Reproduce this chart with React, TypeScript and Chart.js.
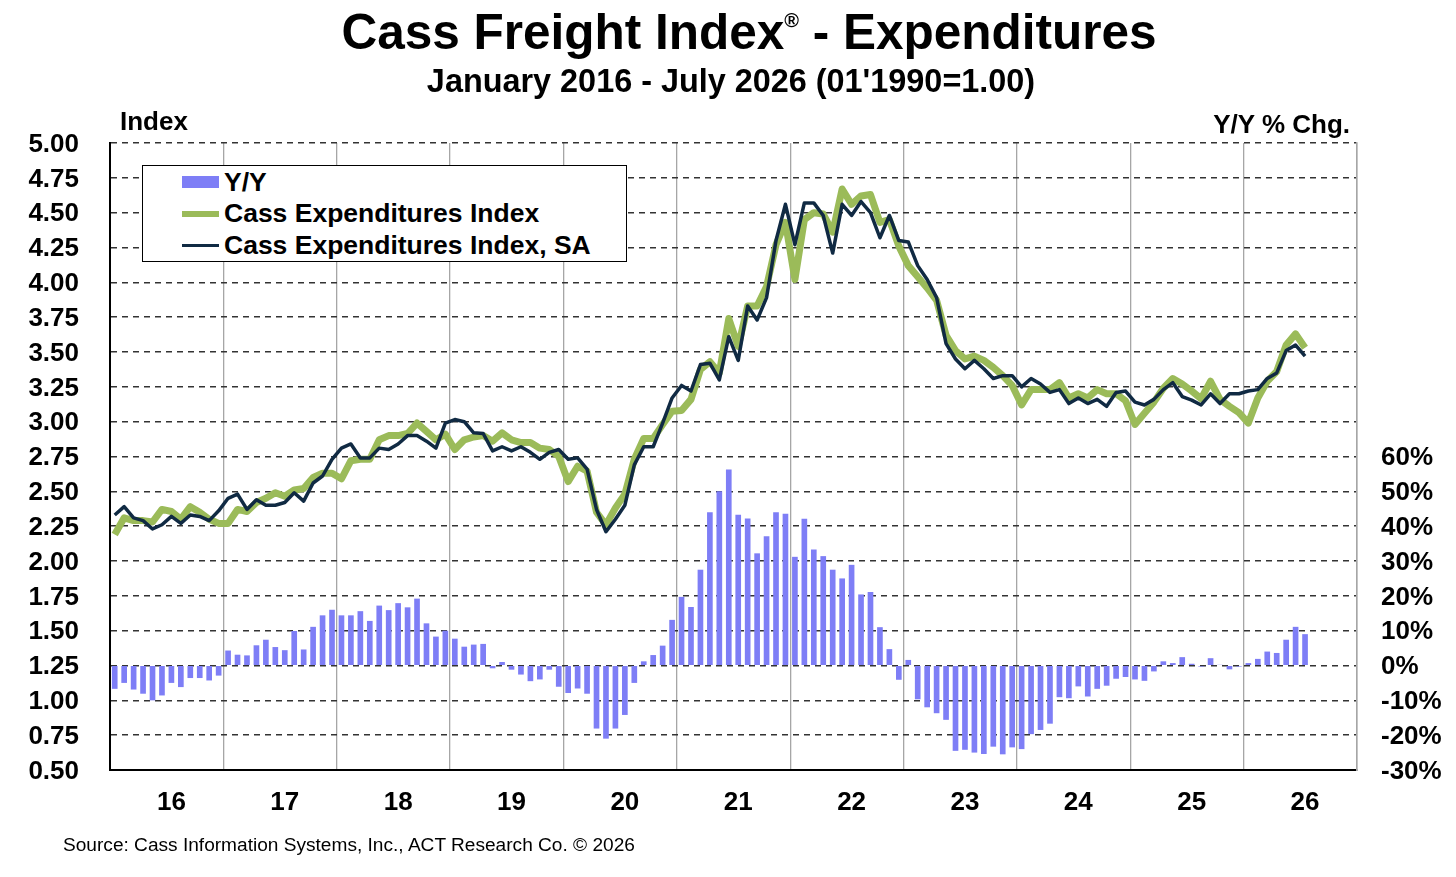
import { useEffect, useRef } from "react";
import { Chart, registerables } from "chart.js";

Chart.register(...registerables);

const FONT = "'Liberation Sans', Arial, Helvetica, sans-serif";
Chart.defaults.font.family = FONT;

const BAR_COLOR = "#7E7EF6";
const GREEN = "#9BBB59";
const NAVY = "#102A43";

// x axis: months Jan 2016 .. Dec 2026, labels centred on each year
const yearLabels = ["16", "17", "18", "19", "20", "21", "22", "23", "24", "25", "26"];

// Y/Y % change, Jan 2016 - Jul 2026
const yoyPct = [
  -6.7, -5.0, -6.9, -8.1, -10.0, -8.6, -5.0, -6.2, -3.6, -3.6, -4.3, -2.9,
  4.3, 3.1, 2.9, 5.8, 7.4, 5.3, 4.4, 9.9, 4.6, 11.1, 14.4, 16.0,
  14.4, 14.4, 15.6, 12.8, 17.2, 15.9, 17.9, 16.7, 19.2, 12.1, 8.3, 10.0,
  7.7, 5.4, 6.0, 6.2, -0.8, 1.0, -1.2, -2.6, -4.5, -4.0, -1.2, -6.1,
  -7.9, -6.6, -8.1, -18.1, -21.0, -18.1, -14.2, -5.0, 1.2, 3.0, 5.7, 13.1,
  19.7, 16.8, 27.5, 44.0, 50.0, 56.3, 43.3, 42.2, 32.2, 37.1, 44.0, 43.6,
  31.2, 42.1, 33.3, 31.4, 27.5, 25.0, 28.9, 20.4, 21.1, 11.0, 4.7, -4.1,
  1.6, -9.7, -12.0, -13.7, -15.6, -24.5, -24.2, -25.0, -25.4, -23.3, -25.5, -23.5,
  -24.0, -19.7, -18.5, -16.7, -9.1, -9.4, -6.0, -8.9, -6.7, -5.8, -3.8, -3.3,
  -4.0, -4.4, -1.7, 1.2, 0.7, 2.4, 0.5, -0.3, 2.1, 0.2, -1.1, -0.3,
  0.7, 1.9, 4.0, 3.6, 7.4, 11.1, 9.0,
];

// Cass Expenditures Index (not seasonally adjusted)
const cassIndex = [
  2.19, 2.31, 2.29, 2.29, 2.28, 2.37, 2.355, 2.3, 2.39, 2.35, 2.3, 2.27,
  2.27, 2.37, 2.355, 2.42, 2.45, 2.49, 2.465, 2.51, 2.52, 2.6, 2.63, 2.63,
  2.59, 2.72, 2.73, 2.73, 2.87, 2.9, 2.9, 2.915, 2.99, 2.93, 2.87, 2.91,
  2.8, 2.87, 2.89, 2.9, 2.86, 2.92, 2.87, 2.85, 2.85, 2.81, 2.8, 2.75,
  2.57, 2.68, 2.645, 2.35, 2.26, 2.38, 2.48, 2.73, 2.88, 2.88, 2.98, 3.075,
  3.08, 3.16, 3.375, 3.43, 3.35, 3.74, 3.54, 3.83, 3.83, 3.97, 4.27, 4.43,
  4.02, 4.45, 4.5, 4.49, 4.36, 4.67, 4.56, 4.62, 4.63, 4.43, 4.45, 4.26,
  4.12, 4.04, 3.96, 3.87, 3.62, 3.51, 3.45, 3.47, 3.44, 3.39, 3.33, 3.26,
  3.12, 3.23, 3.23, 3.23, 3.28, 3.17, 3.2, 3.17, 3.23, 3.2, 3.2, 3.15,
  2.98, 3.06, 3.14, 3.24, 3.31, 3.27, 3.22, 3.165, 3.29, 3.16, 3.11, 3.065,
  2.99, 3.17, 3.29, 3.36, 3.55, 3.63, 3.53,
];

// Cass Expenditures Index, seasonally adjusted
const cassIndexSA = [
  2.33, 2.39, 2.31, 2.29, 2.23, 2.26, 2.32, 2.27, 2.33, 2.32, 2.29, 2.36,
  2.45, 2.48, 2.37, 2.44, 2.4, 2.4, 2.42, 2.49, 2.43, 2.56, 2.61, 2.73,
  2.81, 2.84, 2.74, 2.74, 2.81, 2.8, 2.84, 2.9, 2.9, 2.86, 2.81, 2.99,
  3.015, 3.0, 2.92, 2.915, 2.79, 2.82, 2.79, 2.82, 2.78, 2.73, 2.78, 2.8,
  2.73, 2.74, 2.66, 2.37, 2.21, 2.3, 2.4, 2.69, 2.82, 2.82, 2.99, 3.17,
  3.26, 3.22, 3.41, 3.42, 3.3, 3.61, 3.44, 3.83, 3.73, 3.89, 4.3, 4.56,
  4.27, 4.57, 4.57, 4.48, 4.21, 4.56, 4.48, 4.58, 4.5, 4.32, 4.48, 4.3,
  4.29, 4.12, 4.02, 3.89, 3.56, 3.45, 3.38, 3.44, 3.38, 3.31, 3.33, 3.33,
  3.25, 3.31, 3.27, 3.21, 3.23, 3.13, 3.17, 3.13, 3.16, 3.11, 3.21, 3.22,
  3.14, 3.12, 3.16, 3.23, 3.28, 3.18, 3.155, 3.12, 3.2, 3.13, 3.2, 3.2,
  3.22, 3.23, 3.31, 3.35, 3.51, 3.55, 3.47,
];

const legendItems = [
  { label: "Y/Y", color: BAR_COLOR, thickness: 12 },
  { label: "Cass Expenditures Index", color: GREEN, thickness: 6 },
  { label: "Cass Expenditures Index, SA", color: NAVY, thickness: 3 },
];

const toPoints = (arr: number[]) => arr.map((v, i) => ({ x: i + 0.5, y: v }));

export default function App() {
  const canvasRef = useRef<HTMLCanvasElement | null>(null);

  useEffect(() => {
    if (!canvasRef.current) return;
    const tickFont = { family: FONT, size: 26, weight: "bold" as const };
    const chart = new Chart(canvasRef.current, {
      type: "bar",
      data: {
        datasets: [
          {
            type: "line",
            label: "Cass Expenditures Index, SA",
            data: toPoints(cassIndexSA),
            yAxisID: "y",
            borderColor: NAVY,
            borderWidth: 3.5,
            pointRadius: 0,
            tension: 0,
            borderJoinStyle: "round",
            order: 1,
          },
          {
            type: "line",
            label: "Cass Expenditures Index",
            data: toPoints(cassIndex),
            yAxisID: "y",
            borderColor: GREEN,
            borderWidth: 7,
            pointRadius: 0,
            tension: 0,
            borderJoinStyle: "round",
            order: 2,
          },
          {
            type: "bar",
            label: "Y/Y",
            data: toPoints(yoyPct),
            yAxisID: "y2",
            backgroundColor: BAR_COLOR,
            barPercentage: 0.6,
            categoryPercentage: 1,
            order: 3,
          },
        ],
      } as any,
      options: {
        animation: false,
        responsive: false,
        layout: { padding: { top: 143, left: 0, right: 0, bottom: 0 } },
        plugins: { legend: { display: false }, tooltip: { enabled: false } },
        scales: {
          x: {
            type: "linear",
            position: "bottom",
            min: 0,
            max: 132,
            offset: false,
            afterBuildTicks: (scale: any) => {
              // year boundaries for the grid, July's month centre for the label
              const ticks: { value: number }[] = [];
              for (let k = 0; k <= 11; k++) {
                ticks.push({ value: k * 12 });
                if (k < 11) ticks.push({ value: k * 12 + 6.5 });
              }
              scale.ticks = ticks;
            },
            afterFit: (scale: any) => {
              scale.height = 107;
            },
            ticks: {
              autoSkip: false,
              maxRotation: 0,
              padding: 17,
              color: "#000",
              font: tickFont,
              callback: (v: any) => {
                const n = Number(v);
                return n % 12 === 6.5 ? yearLabels[(n - 6.5) / 12] : "";
              },
            },
            grid: {
              offset: false,
              drawTicks: false,
              lineWidth: 1.3,
              color: (ctx: any) =>
                ctx.tick && ctx.tick.value % 12 === 0 ? "#A6A6A6" : "rgba(0,0,0,0)",
            },
            border: { color: "#000", width: 2 },
          },
          y: {
            type: "linear",
            position: "left",
            min: 0.5,
            max: 5,
            z: 1,
            afterFit: (scale: any) => {
              scale.width = 110;
            },
            ticks: {
              stepSize: 0.25,
              autoSkip: false,
              padding: 31,
              labelOffset: 1.5,
              color: "#000",
              font: tickFont,
              callback: (v: any) => Number(v).toFixed(2),
            },
            grid: { color: "#333", lineWidth: 1.5, drawTicks: false },
            border: { color: "#000", width: 2, dash: [6, 5] },
          },
          y2: {
            type: "linear",
            position: "right",
            min: -30,
            max: 150,
            afterFit: (scale: any) => {
              scale.width = 99;
            },
            ticks: {
              stepSize: 10,
              autoSkip: false,
              padding: 24,
              labelOffset: 1.5,
              color: "#000",
              font: tickFont,
              callback: (v: any) => (Number(v) <= 60 ? `${v}%` : ""),
            },
            grid: { drawOnChartArea: false, drawTicks: false },
            border: { color: "#A6A6A6", width: 1.5 },
          },
        },
      } as any,
    });
    return () => {
      chart.destroy();
    };
  }, []);

  const text = (extra: React.CSSProperties): React.CSSProperties => ({
    position: "absolute",
    fontFamily: FONT,
    fontWeight: "bold",
    lineHeight: 1,
    whiteSpace: "nowrap",
    color: "#000",
    ...extra,
  });

  return (
    <div
      style={{
        position: "absolute",
        left: 0,
        top: 0,
        width: 1456,
        height: 877,
        background: "#fff",
        overflow: "hidden",
      }}
    >
      <canvas
        ref={canvasRef}
        width={1456}
        height={877}
        style={{ position: "absolute", left: 0, top: 0, width: 1456, height: 877 }}
      />
      <div style={text({ left: 749, top: 7, fontSize: 49.5, transform: "translateX(-50%)" })}>
        Cass Freight Index
        <span style={{ fontSize: 20, position: "relative", top: -22 }}>®</span> - Expenditures
      </div>
      <div style={text({ left: 731, top: 65, fontSize: 32.4, transform: "translateX(-50%)" })}>
        January 2016 - July 2026 (01'1990=1.00)
      </div>
      <div style={text({ left: 120, top: 108, fontSize: 26 })}>Index</div>
      <div style={text({ right: 106, top: 111, fontSize: 26 })}>Y/Y % Chg.</div>
      <div
        style={text({ left: 63, top: 835, fontSize: 19.1, fontWeight: "normal" })}
      >
        Source: Cass Information Systems, Inc., ACT Research Co. © 2026
      </div>
      <div
        style={{
          position: "absolute",
          left: 142,
          top: 165,
          width: 485,
          height: 97,
          boxSizing: "border-box",
          border: "1.5px solid #000",
          background: "#fff",
        }}
      >
        {legendItems.map((item, i) => {
          const cy = 16 + i * 31.5;
          return (
            <div key={item.label}>
              <div
                style={{
                  position: "absolute",
                  left: 39,
                  top: cy - item.thickness / 2,
                  width: 37,
                  height: item.thickness,
                  background: item.color,
                }}
              />
              <div style={text({ left: 81, top: cy - 13.25, fontSize: 26.5 })}>
                {item.label}
              </div>
            </div>
          );
        })}
      </div>
    </div>
  );
}
